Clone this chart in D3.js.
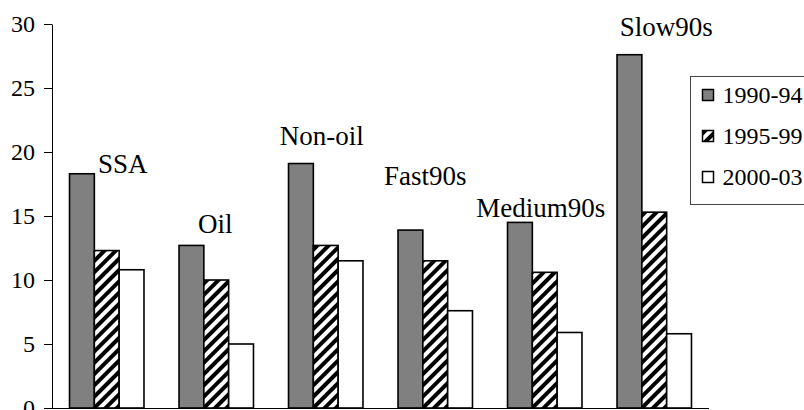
<!DOCTYPE html>
<html>
<head>
<meta charset="utf-8">
<script src="https://cdn.jsdelivr.net/npm/d3@7"></script>
</head>
<body style="margin:0">
<script>
// Data
var categories = ["SSA", "Oil", "Non-oil", "Fast90s", "Medium90s", "Slow90s"];
var seriesNames = ["1990-94", "1995-99", "2000-03"];
var values1990 = [18.3, 12.7, 19.1, 13.9, 14.5, 27.6];
var values1995 = [12.3, 10.0, 12.7, 11.5, 10.6, 15.3];
var values2000 = [10.8, 5.0, 11.5, 7.6, 5.9, 5.8];
var yTicks = [0, 5, 10, 15, 20, 25, 30];

// where each category label sits (in chart units), and a small sideways nudge
var labelLevel = [18.35, 13.7, 20.55, 17.4, 14.95, 29.1];
var labelDx = [16, -1, -4, -10, -4, 12];

var allSeries = [values1990, values1995, values2000];
var fontFace = "Liberation Serif";

var width = 804, height = 410;
var svg = d3.select("body").append("svg")
    .attr("width", width)
    .attr("height", height);

// hatch for the middle series
svg.append("defs").append("pattern")
    .attr("id", "hatch")
    .attr("patternUnits", "userSpaceOnUse")
    .attr("width", 8)
    .attr("height", 8)
    .attr("patternTransform", "rotate(45)")
  .call(function(p) {
    p.append("rect").attr("width", 8).attr("height", 8).attr("fill", "#fff");
    p.append("rect").attr("width", 4).attr("height", 8).attr("fill", "#000");
  });

var fills = ["#808080", "url(#hatch)", "#ffffff"];

// Scales
var x0 = d3.scaleBand()
    .domain(categories)
    .range([52, 709])
    .paddingInner(0.32)
    .paddingOuter(0.16);
var x1 = d3.scaleBand()
    .domain(seriesNames)
    .range([0, x0.bandwidth()]);
var y = d3.scaleLinear()
    .domain([0, 30])
    .range([408, 24]);

// Bars
var groups = svg.selectAll(".group")
    .data(categories)
  .enter().append("g")
    .attr("class", "group")
    .attr("transform", function(d) { return "translate(" + x0(d) + ",0)"; });

groups.selectAll("rect")
    .data(function(d, i) {
      return seriesNames.map(function(s, j) { return { s: s, j: j, v: allSeries[j][i] }; });
    })
  .enter().append("rect")
    .attr("x", function(d) { return x1(d.s); })
    .attr("y", function(d) { return y(d.v); })
    .attr("width", x1.bandwidth())
    .attr("height", function(d) { return y(0) - y(d.v); })
    .attr("fill", function(d) { return fills[d.j]; })
    .attr("stroke", "#000")
    .attr("stroke-width", 1.6);

// Category labels
svg.selectAll(".cat")
    .data(categories)
  .enter().append("text")
    .attr("class", "cat")
    .attr("x", function(d, i) { return x0(d) + x0.bandwidth() / 2 + labelDx[i]; })
    .attr("y", function(d, i) { return y(labelLevel[i]); })
    .attr("text-anchor", "middle")
    .attr("font-family", fontFace)
    .attr("font-size", 27)
    .text(function(d) { return d; });

// Y axis
var yAxis = svg.append("g")
    .attr("transform", "translate(52,0)")
    .call(d3.axisLeft(y).tickValues(yTicks).tickSize(8).tickPadding(9).tickSizeOuter(0))
    .attr("font-family", fontFace)
    .attr("font-size", 24);
yAxis.select(".domain").attr("stroke", "#000");
yAxis.selectAll(".tick line").attr("stroke", "#000");
yAxis.selectAll(".tick text").attr("fill", "#000");

// X axis baseline
svg.append("line")
    .attr("x1", 52)
    .attr("x2", 709)
    .attr("y1", y(0) + 0.5)
    .attr("y2", y(0) + 0.5)
    .attr("stroke", "#000")
    .attr("stroke-width", 1.2);

// Legend
var legend = svg.append("g").attr("transform", "translate(690.5,76.5)");
legend.append("rect")
    .attr("width", 130)
    .attr("height", 128)
    .attr("fill", "#fff")
    .attr("stroke", "#444")
    .attr("stroke-width", 1);

var rows = legend.selectAll(".row")
    .data(seriesNames)
  .enter().append("g")
    .attr("class", "row")
    .attr("transform", function(d, i) { return "translate(12," + (13 + i * 41) + ")"; });
rows.append("rect")
    .attr("width", 11)
    .attr("height", 11)
    .attr("fill", function(d, i) { return fills[i]; })
    .attr("stroke", "#000")
    .attr("stroke-width", 1.5);
rows.append("text")
    .attr("x", 20)
    .attr("y", 13)
    .attr("font-family", fontFace)
    .attr("font-size", 24)
    .text(function(d) { return d; });
</script>
</body>
</html>
